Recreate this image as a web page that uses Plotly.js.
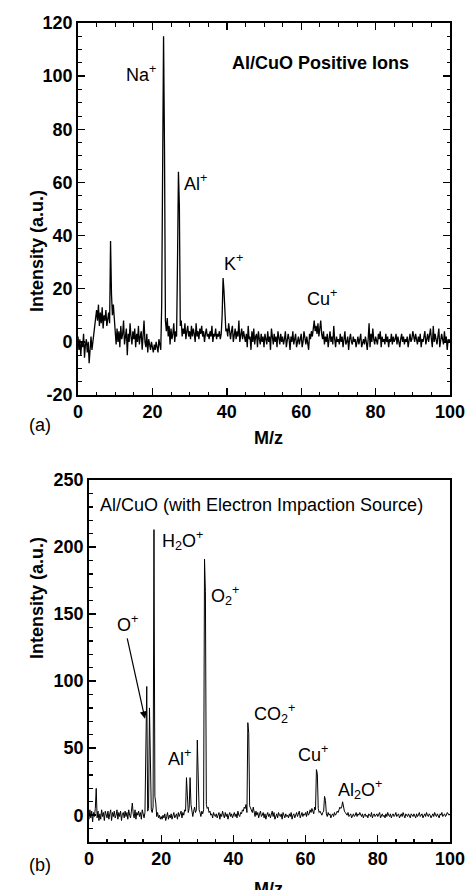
<!DOCTYPE html>
<html>
<head>
<meta charset="utf-8">
<script src="https://cdn.plot.ly/plotly-3.0.1.min.js"></script>
<style>html,body{margin:0;padding:0;background:#fff;}#chart{width:466px;height:890px;}</style>
</head>
<body>
<div id="chart"></div>
<script>
// M/z grid: start 0, step 0.25 (401 samples per spectrum)
const mzStart = 0;
const mzStep = 0.25;

// (a) Al/CuO positive ions
const intensityA = [
  2, -3, 1, -5, 0, -2, 3, -6, -1, 1, -4, 0, -8, -2, 2, -3, 1, 4, 6, 9,
  12, 8, 14, 6, 11, 7, 13, 5, 10, 8, 12, 6, 9, 11, 7, 38, 18, 10, 14, 8,
  3, -1, 5, 0, 4, -2, 6, 1, 3, 8, -1, 2, 5, -5, 3, 0, 7, 2, -1, 4,
  1, 5, -2, 3, 0, 6, -1, 2, 4, -3, 1, 8, 0, -2, 3, -4, 1, -1, -3, 0,
  -2, -4, -1, -3, 0, -2, -4, 1, -1, -3, 14, 63, 115, 73, 8, 4, 9, 2, 6, -1,
  5, 1, 3, 7, 0, 4, 2, 30, 64, 51, 6, 8, 2, 5, 3, 7, 1, 4, 6, 2,
  4, 1, 6, 2, 5, 3, 0, 7, 2, 4, 1, 5, 3, 6, 2, 4, 0, 3, 5, 2,
  3, 1, 4, 2, 6, 0, 3, 2, 5, 1, 3, 2, 4, 1, 3, 10, 24, 19, 7, 4,
  5, 2, 7, 3, 1, 4, 6, 0, 3, 5, 1, 4, 2, 8, 0, 3, 5, 1, 4, 2,
  0, 3, -2, 6, 1, 2, -3, 4, 0, 5, -1, 2, 3, -2, 4, 1, -1, 3, 0, 2,
  -2, 3, 1, -1, 4, 0, 2, -3, 5, 1, -1, 3, 0, 2, -2, 4, 1, -1, 3, 0,
  2, -1, 1, 4, -2, 0, 3, 1, -3, 2, 0, 4, -1, 1, 3, -2, 0, 2, -1, 1,
  3, -2, 0, 4, 1, -1, 2, 0, -3, 3, 1, 4, 2, 5, 8, 4, 6, 3, 7, 2,
  5, 8, 3, 1, 4, -1, 2, 0, 3, -2, 1, 4, 0, 2, -1, 6, 1, -2, 2, 0,
  1, -1, 3, 0, 2, -2, 1, 4, -1, 0, 2, -3, 1, 3, 0, -1, 2, 0, 1, -2,
  0, 2, -1, 1, 3, -2, 0, 1, -1, 2, 0, -3, 1, 7, -2, 3, 0, 5, 1, -1,
  2, 0, -1, 3, 1, 4, -2, 2, 0, 1, -1, 3, 0, 2, -2, 1, 0, 3, -1, 2,
  0, 1, 3, -1, 2, 0, -2, 1, 3, 0, 2, -1, 1, 0, 2, -2, 1, 3, 0, 1,
  4, 2, 0, 3, 1, -1, 2, 0, 3, -2, 1, 0, 2, 4, -1, 1, 3, 0, 2, 5,
  1, -2, 6, 0, 3, 1, -1, 2, 5, -2, 0, 3, 1, -1, 4, 0, 2, -3, 1, 0,
  1
];

// (b) Al/CuO with electron impaction source
const intensityB = [
  -3, 4, -2, 3, -5, 2, -1, 5, 20, -2, 3, -4, 1, -3, 4, -1, 2, -4, 3, 0,
  -2, 3, -3, 1, 4, -4, 2, -1, 3, -2, 0, 4, -3, 2, -1, 3, -4, 1, 2, -2,
  3, -1, 2, -3, 4, 0, -2, 3, 9, 1, -2, 4, -3, 2, 0, 3, -1, 2, -3, 4,
  1, -2, 2, 59, 96, 3, 5, 80, 49, 4, 2, 6, 213, 14, 9, -1, 2, -2, 0, -3,
  -1, -3, 0, -2, 1, -4, -1, 2, -3, 0, -2, 1, -3, -1, 2, -2, 0, 1, -3, 2,
  -1, 1, 3, -2, 2, 0, 4, 3, 28, 15, 2, 5, 28, 8, 1, -1, 3, 6, 2, 4,
  56, 31, 4, 2, -1, 3, 1, 4, 191, 167, 8, 5, 6, 2, 3, 0, 1, -2, 2, 0,
  -1, 1, -2, 0, 2, -3, 1, -1, 3, 0, -2, 2, -1, 1, -3, 0, 2, -1, 1, -2,
  0, 2, -1, 1, -2, 3, 0, -1, 2, 1, 4, 3, 6, 5, 8, 2, 69, 61, 7, 5,
  4, 2, 6, 1, -1, 3, 0, 2, -2, 1, 3, -1, 0, 2, -2, 1, -3, 0, 2, -1,
  1, -2, 0, 3, -1, 2, -3, 0, 1, -2, 2, 0, -1, 1, -3, 2, 0, -2, 1, -1,
  0, -2, 1, -1, 2, -3, 0, 1, -2, 0, 2, -1, 1, 3, -2, 0, 2, -1, 1, 0,
  2, -1, 3, 0, 1, 4, 2, 5, 3, 1, 6, 4, 34, 31, 5, 2, 3, 1, 0, 2,
  3, 14, 11, 1, -1, 2, 0, 1, -2, 0, 1, -1, 2, 0, 1, 3, 2, 4, 6, 5,
  6, 10, 6, 3, 2, 1, 0, 2, -1, 0, 1, -2, 0, 1, -1, 0, 2, -1, 1, 0,
  2, 0, -1, 1, -2, 0, 1, -1, 0, -2, 1, 0, -1, 2, -2, 0, 1, -1, 0, 1,
  -1, 0, 2, -2, 0, 1, -1, 0, -2, 1, -1, 2, 0, -1, 1, -2, 0, 1, -1, 0,
  2, -1, 0, 1, -2, 0, 1, -1, 2, 0, -2, 1, 0, -1, 1, 0, -2, 1, 0, -1,
  1, 0, -2, 1, -1, 0, 2, -1, 0, 1, -2, 0, 1, -1, 2, 0, -1, 1, 0, -2,
  0, 1, -1, 2, 0, -1, 1, 0, -2, 1, 0, 2, -1, 0, 1, -1, 0, 2, 1, 0,
  1
];

// tick labels
const xTicks = [0, 20, 40, 60, 80, 100];
const xTickText = ["0", "20", "40", "60", "80", "100"];
const yTicksA = [-20, 0, 20, 40, 60, 80, 100, 120];
const yTickTextA = ["-20", "0", "20", "40", "60", "80", "100", "120"];
const yTicksB = [0, 50, 100, 150, 200, 250];
const yTickTextB = ["0", "50", "100", "150", "200", "250"];

// peak labels
const labelsA = ["Na<sup>+</sup>", "Al<sup>+</sup>", "K<sup>+</sup>", "Cu<sup>+</sup>"];
const labelAx = [16.9, 31.5, 41.9, 65.6];
const labelAy = [101, 60, 30, 16.6];

const labelsB = ["H<sub>2</sub>O<sup>+</sup>", "O<sub>2</sub><sup>+</sup>", "O<sup>+</sup>", "Al<sup>+</sup>", "CO<sub>2</sub><sup>+</sup>", "Cu<sup>+</sup>", "Al<sub>2</sub>O<sup>+</sup>"];
const labelBx = [25.8, 37.7, 10.8, 25.2, 51.5, 62, 75];
const labelBy = [205, 164, 143, 43, 76, 46, 19];

const titleA = "Al/CuO Positive Ions";
const titleB = "Al/CuO (with Electron Impaction Source)";

const FONT = "Liberation Sans, Arial, sans-serif";

const traces = [
  {x0: mzStart, dx: mzStep, y: intensityA, type: 'scatter', mode: 'lines',
   line: {color: '#000', width: 1.3}, xaxis: 'x', yaxis: 'y', hoverinfo: 'skip'},
  {x0: mzStart, dx: mzStep, y: intensityB, type: 'scatter', mode: 'lines',
   line: {color: '#000', width: 1}, xaxis: 'x2', yaxis: 'y2', hoverinfo: 'skip'}
];

const tickFont = {family: FONT, size: 18, color: '#000', weight: 'bold'};

function axisBase(extra) {
  return Object.assign({
    showgrid: false, zeroline: false, showline: true, linecolor: '#000', linewidth: 1.8,
    ticks: 'inside', ticklen: 7, tickwidth: 1.4, tickcolor: '#000',
    tickmode: 'array', tickfont: tickFont, fixedrange: true
  }, extra);
}

const annotations = [];
labelsA.forEach((t, i) => annotations.push({
  xref: 'x', yref: 'y', x: labelAx[i], y: labelAy[i], text: t, showarrow: false,
  font: {family: FONT, size: 18, color: '#000'}
}));
labelsB.forEach((t, i) => annotations.push({
  xref: 'x2', yref: 'y2', x: labelBx[i], y: labelBy[i], text: t, showarrow: false,
  font: {family: FONT, size: 18, color: '#000'}
}));
// O+ arrow
annotations.push({
  xref: 'x2', yref: 'y2', x: 15.5, y: 72, ax: 10.5, ay: 133, axref: 'x2', ayref: 'y2',
  text: '', showarrow: true, arrowhead: 2, arrowsize: 1.2, arrowwidth: 1.2, arrowcolor: '#000'
});
annotations.push({xref: 'x', yref: 'y', x: 65.3, y: 105, text: '<b>' + titleA + '</b>', showarrow: false,
  font: {family: FONT, size: 18, color: '#000'}});
annotations.push({xref: 'x2', yref: 'y2', x: 47.9, y: 231, text: titleB, showarrow: false,
  font: {family: FONT, size: 18, color: '#000'}});
// axis titles
annotations.push({xref: 'paper', yref: 'paper', x: 25/466, y: (890-188)/890, text: '<b>Intensity (a.u.)</b>',
  textangle: -90, showarrow: false, font: {family: FONT, size: 18, color: '#000'}});
annotations.push({xref: 'paper', yref: 'paper', x: 25/466, y: (890-661)/890, text: '<b>Intensity (a.u.)</b>',
  textangle: -90, showarrow: false, font: {family: FONT, size: 18, color: '#000'}});
annotations.push({xref: 'paper', yref: 'paper', x: 268/466, y: (890-426)/890, yanchor: 'top', text: '<b>M/z</b>',
  showarrow: false, font: {family: FONT, size: 18, color: '#000'}});
annotations.push({xref: 'paper', yref: 'paper', x: 268/466, y: (890-877)/890, yanchor: 'top', text: '<b>M/z</b>',
  showarrow: false, font: {family: FONT, size: 18, color: '#000'}});
annotations.push({xref: 'paper', yref: 'paper', x: 27/466, y: (890-425)/890, text: '(a)',
  showarrow: false, font: {family: FONT, size: 18, color: '#000'}});
annotations.push({xref: 'paper', yref: 'paper', x: 27/466, y: (890-877)/890, text: '(b)',
  showarrow: false, font: {family: FONT, size: 18, color: '#000'}});

const layout = {
  width: 466, height: 890,
  margin: {l: 0, r: 0, t: 0, b: 0},
  paper_bgcolor: '#fff', plot_bgcolor: '#fff',
  showlegend: false,
  font: {family: FONT, color: '#000'},
  xaxis: axisBase({domain: [78/466, 450/466], range: [0, 100], tickvals: xTicks, ticktext: xTickText,
    mirror: 'ticks', anchor: 'y', minor: {dtick: 5, ticks: 'inside', ticklen: 3.5, tickwidth: 1, tickcolor: '#000'}}),
  yaxis: axisBase({domain: [(890-395)/890, (890-23)/890], range: [-20, 120], tickvals: yTicksA, ticktext: yTickTextA,
    mirror: 'ticks', anchor: 'x', minor: {dtick: 5, ticks: 'inside', ticklen: 3.5, tickwidth: 1, tickcolor: '#000'}}),
  xaxis2: axisBase({domain: [89/466, 450/466], range: [0, 100], tickvals: xTicks, ticktext: xTickText,
    mirror: true, anchor: 'y2', minor: {dtick: 5, ticks: 'inside', ticklen: 3.5, tickwidth: 1.4, tickcolor: '#000'}}),
  yaxis2: axisBase({domain: [(890-842)/890, (890-480)/890], range: [-20, 250], tickvals: yTicksB, ticktext: yTickTextB,
    mirror: true, anchor: 'x2', minor: {dtick: 10, ticks: 'inside', ticklen: 3.5, tickwidth: 1.4, tickcolor: '#000'}}),
  annotations: annotations
};

Plotly.newPlot('chart', traces, layout, {staticPlot: true, displayModeBar: false});
</script>
</body>
</html>
